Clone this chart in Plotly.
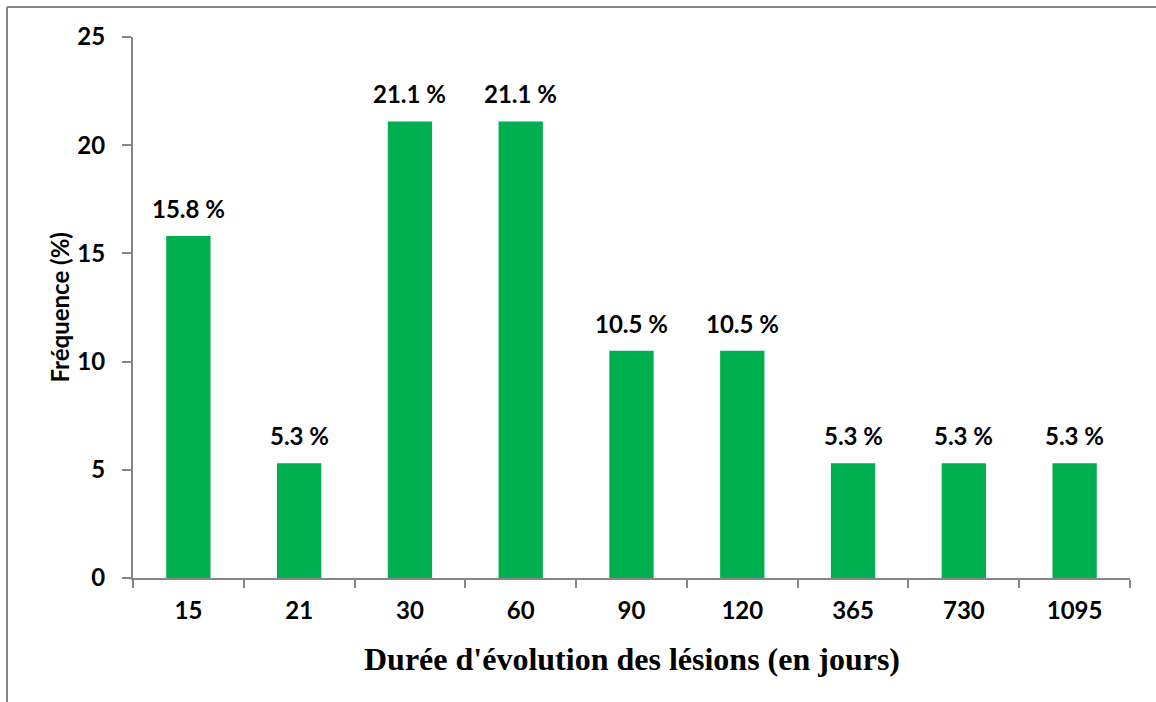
import plotly.graph_objects as go

# Durée d'évolution (jours) et fréquence (%)
durees = ["15", "21", "30", "60", "90", "120", "365", "730", "1095"]
frequences = [15.8, 5.3, 21.1, 21.1, 10.5, 10.5, 5.3, 5.3, 5.3]
y_ticks = [0, 5, 10, 15, 20, 25]

W, H = 1156, 702
L, R, T, B = 133, 26, 37, 124
pw, ph = W - L - R, H - T - B

def px_x(x):
    return (x - L) / pw

def px_y(y):
    return (H - B - y) / ph

axis_grey = "#868686"
sans = "Lato, Calibri, Carlito, sans-serif"
serif = "Liberation Serif, Times New Roman, serif"
fs = 24

fig = go.Figure(
    go.Bar(
        x=durees,
        y=frequences,
        marker=dict(color="#00B050", line=dict(width=0)),
    )
)

# étiquettes de valeur au-dessus des barres (position = rang de la catégorie)
for i, v in enumerate(frequences):
    fig.add_annotation(
        x=i, y=v, xref="x", yref="y",
        text=f"{v:.1f} %", showarrow=False,
        yanchor="bottom", yshift=11,
        font=dict(family=sans, size=fs, color="#000000", weight="bold"),
    )

# titres des axes
fig.add_annotation(
    x=0.5, y=px_y(659), xref="paper", yref="paper",
    text="Durée d'évolution des lésions (en jours)", showarrow=False,
    xanchor="center", yanchor="middle",
    font=dict(family=serif, size=32, color="#000000", weight="bold"),
)
fig.add_annotation(
    x=px_x(59), y=0.5, xref="paper", yref="paper",
    text="Fréquence (%)", showarrow=False, textangle=-90,
    xanchor="center", yanchor="middle",
    font=dict(family=sans, size=fs, color="#000000", weight="bold"),
)

fig.update_layout(
    width=W,
    height=H,
    margin=dict(l=L, r=R, t=T, b=B),
    paper_bgcolor="white",
    plot_bgcolor="white",
    bargap=0.6,
    showlegend=False,
    font=dict(family=sans, color="#000000"),
    xaxis=dict(
        type="category",
        categoryorder="array",
        categoryarray=durees,
        range=[-0.5, len(durees) - 0.5],
        showline=True,
        linecolor=axis_grey,
        linewidth=2,
        ticks="outside",
        tickson="boundaries",
        ticklen=8,
        tickcolor=axis_grey,
        tickwidth=2,
        showgrid=False,
        tickangle=0,
        ticklabelstandoff=10,
        tickfont=dict(family=sans, size=fs, weight="bold"),
    ),
    yaxis=dict(
        range=[0, 25],
        tickvals=y_ticks,
        showline=True,
        linecolor=axis_grey,
        linewidth=2,
        ticks="outside",
        ticklen=9,
        tickcolor=axis_grey,
        tickwidth=2,
        showgrid=False,
        zeroline=False,
        ticklabelstandoff=12,
        tickfont=dict(family=sans, size=fs, weight="bold"),
    ),
    shapes=[
        # cadre du graphique (bords gauche et haut)
        dict(type="line", xref="paper", yref="paper",
             x0=px_x(7), x1=px_x(7), y0=px_y(7), y1=px_y(H + 5),
             line=dict(color=axis_grey, width=2)),
        dict(type="line", xref="paper", yref="paper",
             x0=px_x(7), x1=px_x(W + 5), y0=px_y(7), y1=px_y(7),
             line=dict(color=axis_grey, width=2)),
    ],
)

fig.write_html("out.html")
